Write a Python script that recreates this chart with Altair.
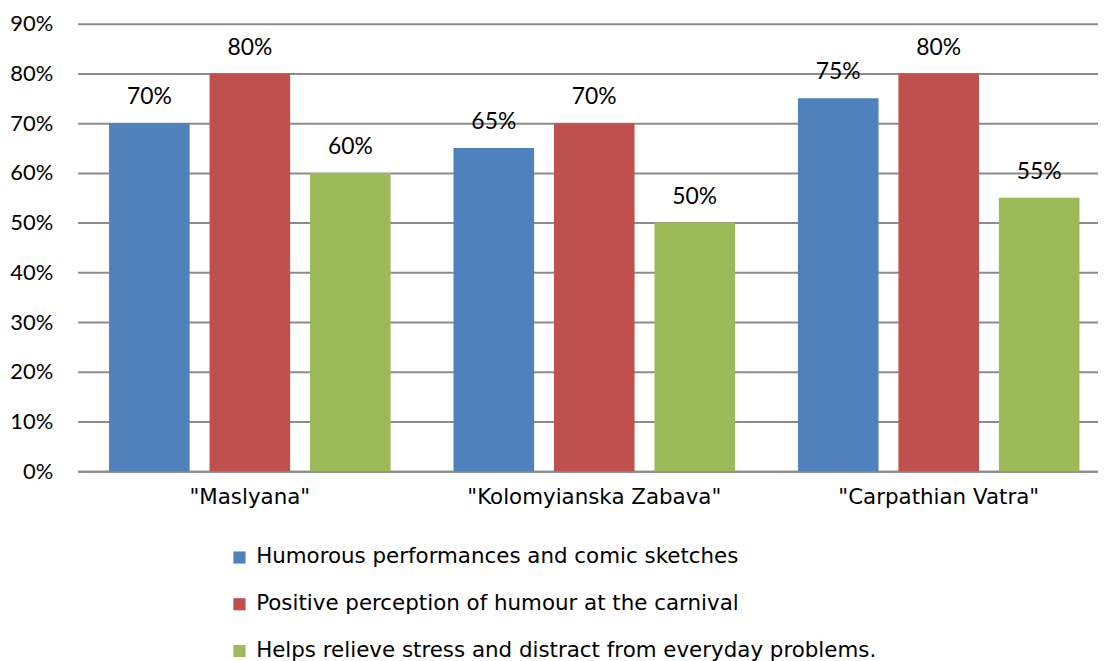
import altair as alt
import pandas as pd

categories = ['"Maslyana"', '"Kolomyianska Zabava"', '"Carpathian Vatra"']
series = [
    "Humorous performances and comic sketches",
    "Positive perception of humour at the carnival",
    "Helps relieve stress and distract from everyday problems.",
]
values = {
    series[0]: [70, 65, 75],
    series[1]: [80, 70, 80],
    series[2]: [60, 50, 55],
}
colors = ["#4F81BD", "#C0504D", "#9BBB59"]
y_ticks = [0, 10, 20, 30, 40, 50, 60, 70, 80, 90]

rows = []
for s_i, s in enumerate(series):
    for c_i, c in enumerate(categories):
        rows.append({"category": c, "series": s, "order": s_i, "value": values[s][c_i],
                     "label": f"{values[s][c_i]}%"})
df = pd.DataFrame(rows)

TFONT = "DejaVu Sans"
NFONT = "Lato"

x = alt.X("category:N", sort=categories, title=None,
          scale=alt.Scale(paddingInner=0, paddingOuter=0, range=[0, 1039]),
          axis=alt.Axis(labelAngle=0, labelFontSize=21.5, labelColor="#000", labelPadding=15,
                        ticks=False, domain=True, domainColor="#8c8c8c", domainWidth=2,
                        labelFont=TFONT, grid=False, labelLimit=600))
xo = alt.XOffset("series:N", sort=series,
                 scale=alt.Scale(paddingInner=0.198, paddingOuter=0.313))
y = alt.Y("value:Q", title=None,
          scale=alt.Scale(domain=[0, 90], nice=False),
          axis=alt.Axis(values=y_ticks, labelExpr="datum.value + '%'", labelFontSize=22,
                        labelColor="#000", labelPadding=25, ticks=False, domain=False,
                        gridColor="#8c8c8c", gridWidth=2, labelFont=NFONT))

bars = alt.Chart(df).mark_bar().encode(
    x=x, xOffset=xo, y=y,
    color=alt.Color("series:N", sort=series,
                    scale=alt.Scale(domain=series, range=colors),
                    legend=alt.Legend(title=None, orient="none", legendX=152, legendY=526,
                                      direction="vertical", symbolType="square", symbolSize=150,
                                      symbolStrokeWidth=0, labelFontSize=21.5, labelFont=TFONT,
                                      labelColor="#000", rowPadding=24, padding=0,
                                      labelOffset=6, labelLimit=800)),
)

text = alt.Chart(df).mark_text(baseline="alphabetic", dy=-19, fontSize=23, font=NFONT,
                               color="#000").encode(
    x=alt.X("category:N", sort=categories), xOffset=alt.XOffset("series:N", sort=series),
    y="value:Q", text="label:N")

chart = (bars + text).properties(
    width=1026, height=450,
    autosize=alt.AutoSizeParams(type="none"),
    padding={"left": 70, "top": 14, "right": 0, "bottom": 189},
).configure_view(stroke=None)

chart.save("out.html", embed_options={"renderer": "svg", "actions": False})
